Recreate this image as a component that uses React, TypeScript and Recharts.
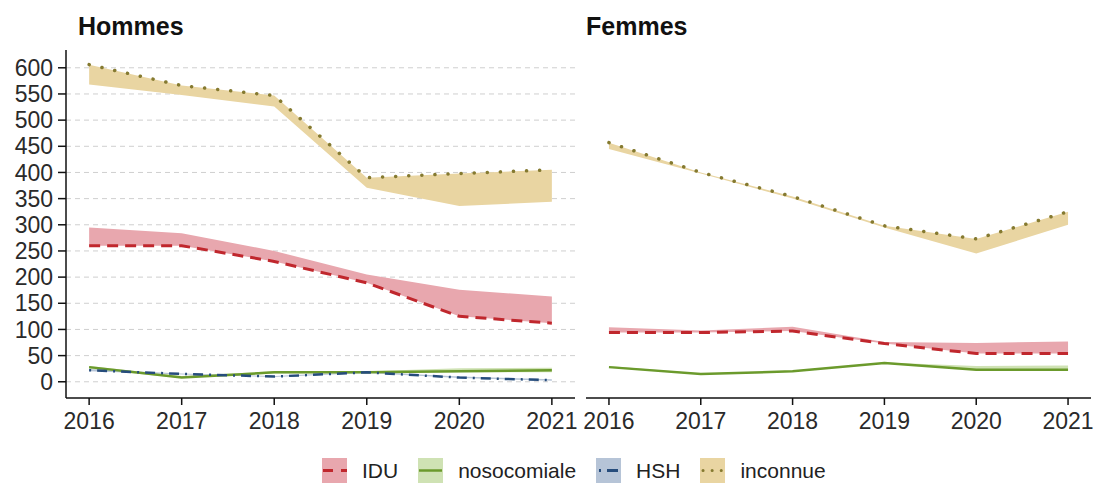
import { ComposedChart, Area, Line, XAxis, YAxis, CartesianGrid } from "recharts";

const years = [2016, 2017, 2018, 2019, 2020, 2021];
const yTicks = [0, 50, 100, 150, 200, 250, 300, 350, 400, 450, 500, 550, 600];

// Hommes
const hIduLine = [260, 260, 230, 189, 125, 112];
const hIduHigh = [295, 284, 250, 205, 176, 163];
const hNosoLine = [28, 8, 18, 18, 20, 22];
const hNosoLow = [24, 7, 16, 17, 18, 18];
const hNosoHigh = [30, 11, 20, 20, 26, 27];
const hHshLine = [22, 15, 10, 18, 8, 3];
const hHshLow = [20, 14, 9, 17, 7, 2];
const hHshHigh = [24, 16, 11, 19, 10, 5];
const hIncLine = [606, 566, 547, 390, 398, 405];
const hIncLow = [568, 548, 526, 371, 336, 344];

// Femmes
const fIduLine = [94, 94, 97, 73, 54, 54];
const fIduHigh = [104, 98, 105, 76, 74, 77];
const fNosoLine = [28, 15, 20, 36, 23, 23];
const fNosoHigh = [30, 16, 21, 37, 30, 31];
const fIncLine = [457, 400, 354, 298, 273, 325];
const fIncLow = [445, 398, 350, 295, 245, 300];

const C = {
  idu: "#c0272d",
  iduFill: "#e8a7ae",
  noso: "#6b9a2c",
  nosoFill: "#cfe2b4",
  hsh: "#264c7c",
  hshFill: "#b6c4d7",
  inc: "#857a30",
  incFill: "#e9d5a2",
};

const FONT = "'Liberation Sans', Arial, sans-serif";

const hommes = years.map((year, i) => ({
  year,
  idu: hIduLine[i],
  iduR: [hIduLine[i], hIduHigh[i]],
  noso: hNosoLine[i],
  nosoR: [hNosoLow[i], hNosoHigh[i]],
  hsh: hHshLine[i],
  hshR: [hHshLow[i], hHshHigh[i]],
  inc: hIncLine[i],
  incR: [hIncLow[i], hIncLine[i]],
}));

const femmes = years.map((year, i) => ({
  year,
  idu: fIduLine[i],
  iduR: [fIduLine[i], fIduHigh[i]],
  noso: fNosoLine[i],
  nosoR: [fNosoLine[i], fNosoHigh[i]],
  inc: fIncLine[i],
  incR: [fIncLow[i], fIncLine[i]],
}));

const tickStyle = { fontFamily: FONT, fontSize: 23, fill: "#2a2a2a" };

function Panel({ data, left, width, margin, showY, hsh }: any) {
  return (
    <div style={{ position: "absolute", left, top: 0 }}>
      <ComposedChart width={width} height={438} data={data} margin={margin}>
        <CartesianGrid vertical={false} horizontalValues={yTicks} stroke="#cfcfcf" strokeDasharray="5 4" />
        <XAxis
          dataKey="year"
          type="number"
          domain={[2015.75, 2021.25]}
          ticks={years}
          tick={tickStyle}
          fontSize={23}
          tickSize={7}
          tickMargin={8}
          height={40}
          axisLine={{ stroke: "#111", strokeWidth: 1.5 }}
          tickLine={{ stroke: "#111", strokeWidth: 1.5 }}
        />
        <YAxis
          type="number"
          domain={[-31, 634]}
          ticks={yTicks}
          allowDataOverflow
          interval={0}
          width={showY ? 58 : 0}
          tick={showY ? tickStyle : false}
          fontSize={23}
          tickSize={8}
          tickMargin={5}
          axisLine={showY ? { stroke: "#111", strokeWidth: 1.5 } : false}
          tickLine={showY ? { stroke: "#111", strokeWidth: 1.5 } : false}
        />
        <Area dataKey="incR" stroke="none" fill={C.incFill} fillOpacity={1} isAnimationActive={false} />
        <Area dataKey="iduR" stroke="none" fill={C.iduFill} fillOpacity={1} isAnimationActive={false} />
        <Area dataKey="nosoR" stroke="none" fill={C.nosoFill} fillOpacity={1} isAnimationActive={false} />
        {hsh && <Area dataKey="hshR" stroke="none" fill={C.hshFill} fillOpacity={1} isAnimationActive={false} />}
        <Line dataKey="noso" stroke={C.noso} strokeWidth={2.5} dot={false} isAnimationActive={false} />
        {hsh && (
          <Line dataKey="hsh" stroke={C.hsh} strokeWidth={2.5} strokeDasharray="2 6 10 6" dot={false} isAnimationActive={false} />
        )}
        <Line dataKey="idu" stroke={C.idu} strokeWidth={3} strokeDasharray="11 7" dot={false} isAnimationActive={false} />
        <Line
          dataKey="inc"
          stroke={C.inc}
          strokeWidth={3.5}
          strokeLinecap="round"
          strokeDasharray="0.1 13"
          dot={false}
          isAnimationActive={false}
        />
      </ComposedChart>
    </div>
  );
}

function Key({ fill, children }: any) {
  return (
    <svg width={25} height={25} style={{ display: "block" }}>
      <rect x={0} y={0} width={25} height={25} fill={fill} />
      {children}
    </svg>
  );
}

const legendItems = [
  {
    label: "IDU",
    key: (
      <Key fill={C.iduFill}>
        <line x1={1} y1={12.5} x2={25} y2={12.5} stroke={C.idu} strokeWidth={3} strokeDasharray="10 8" />
      </Key>
    ),
  },
  {
    label: "nosocomiale",
    key: (
      <Key fill={C.nosoFill}>
        <line x1={1} y1={12.5} x2={24} y2={12.5} stroke={C.noso} strokeWidth={2.5} />
      </Key>
    ),
  },
  {
    label: "HSH",
    key: (
      <Key fill={C.hshFill}>
        <line x1={3} y1={12.5} x2={25} y2={12.5} stroke={C.hsh} strokeWidth={3} strokeDasharray="2 6 11 6" />
      </Key>
    ),
  },
  {
    label: "inconnue",
    key: (
      <Key fill={C.incFill}>
        <line x1={3} y1={12.5} x2={25} y2={12.5} stroke={C.inc} strokeWidth={3} strokeLinecap="round" strokeDasharray="0.1 9" />
      </Key>
    ),
  },
];

export default function App() {
  return (
    <div
      style={{
        position: "absolute",
        left: 0,
        top: 0,
        width: 1096,
        height: 492,
        background: "#fff",
        fontFamily: FONT,
        overflow: "hidden",
      }}
    >
      <div style={{ position: "absolute", left: 78, top: 12, fontSize: 25, fontWeight: 700, color: "#111" }}>Hommes</div>
      <div style={{ position: "absolute", left: 586, top: 12, fontSize: 25, fontWeight: 700, color: "#111" }}>Femmes</div>
      <Panel data={hommes} left={0} width={590} margin={{ top: 50, right: 15, left: 8, bottom: 0 }} showY hsh />
      <Panel data={femmes} left={575} width={521} margin={{ top: 50, right: 5, left: 11, bottom: 0 }} showY={false} hsh={false} />
      <div
        style={{
          position: "absolute",
          left: 322,
          top: 458,
          display: "flex",
          alignItems: "center",
          fontSize: 21,
          color: "#222",
        }}
      >
        {legendItems.map((it) => (
          <div key={it.label} style={{ display: "flex", alignItems: "center", marginRight: 20 }}>
            {it.key}
            <span style={{ marginLeft: 15 }}>{it.label}</span>
          </div>
        ))}
      </div>
    </div>
  );
}
